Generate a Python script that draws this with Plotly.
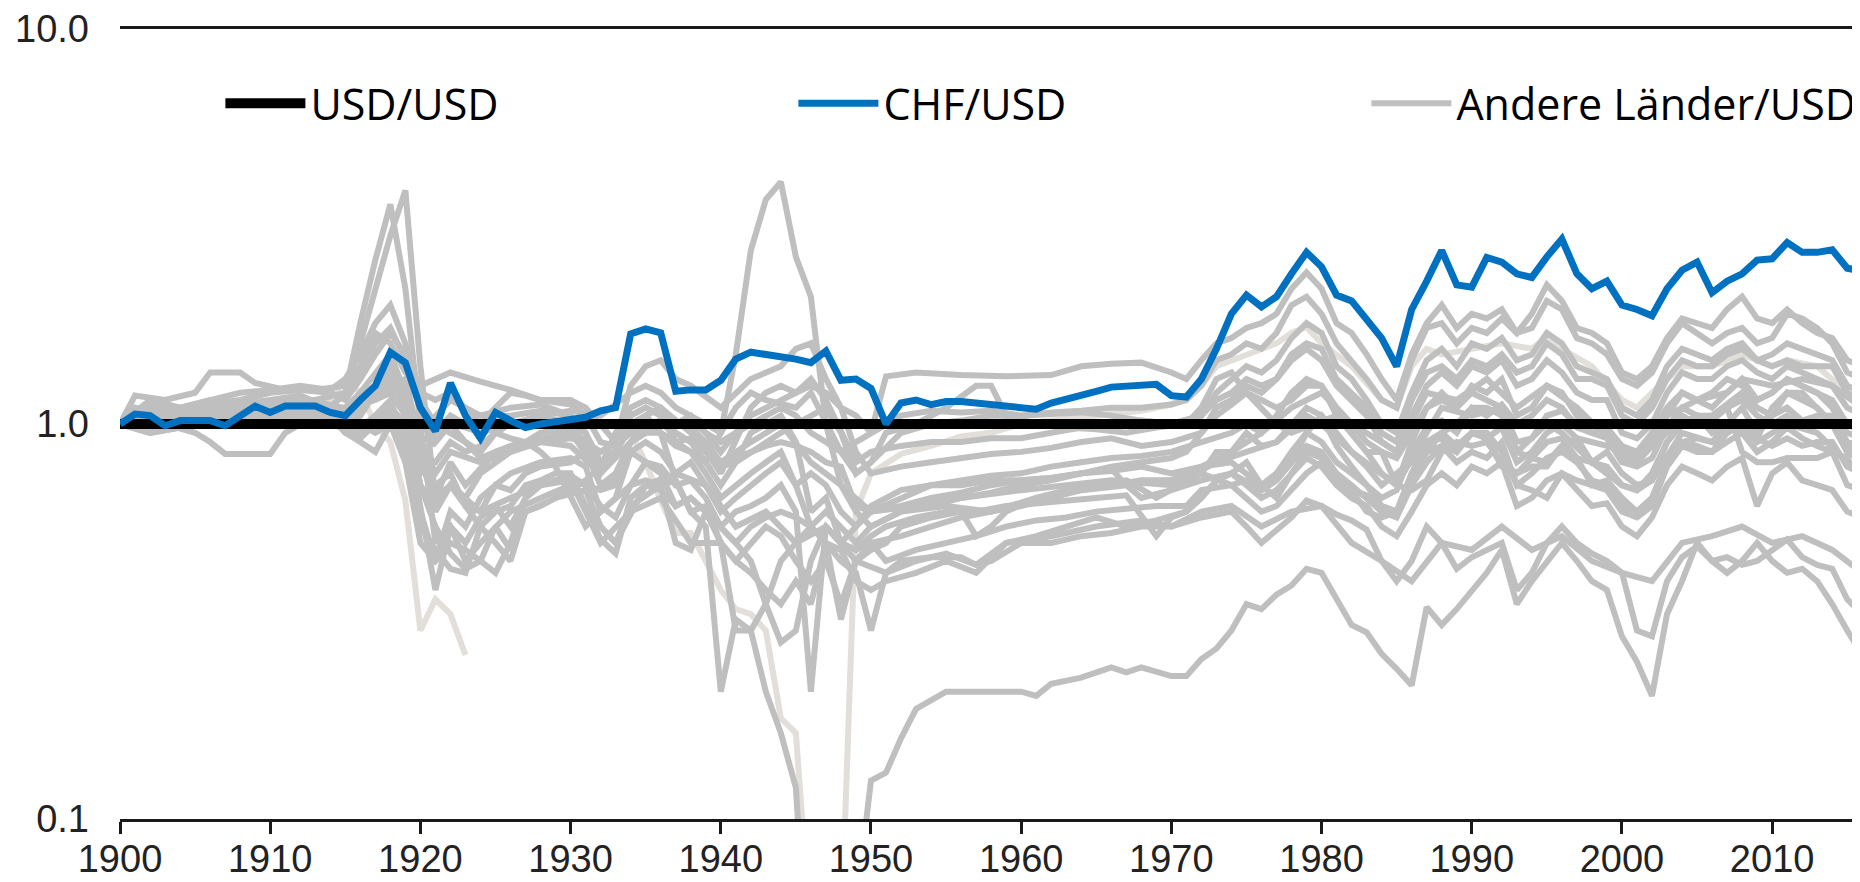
import plotly.graph_objects as go

# ---------------- data ----------------
years = list(range(1900, 2017))
usd_values = [1.0] * len(years)

chf_values = [
    1.00, 1.06, 1.05, 0.99, 1.02, 1.02, 1.02, 0.99, 1.05, 1.11,
    1.07, 1.11, 1.11, 1.11, 1.07, 1.05, 1.15, 1.25, 1.52, 1.43,
    1.10, 0.96, 1.27, 1.05, 0.92, 1.07, 1.02, 0.98, 1.00, 1.01,
    1.03, 1.04, 1.08, 1.10, 1.69, 1.74, 1.70, 1.21, 1.22, 1.22,
    1.29, 1.46, 1.52, 1.50, 1.49, 1.46, 1.43, 1.53, 1.29, 1.30,
    1.23, 1.00, 1.13, 1.15, 1.12, 1.14, 1.14, 1.13, 1.12, 1.12,
    1.10, 1.09, 1.13, 1.16, 1.18, 1.21, 1.24, 1.25, 1.26, 1.26,
    1.18, 1.17, 1.30, 1.55, 1.90, 2.12, 1.98, 2.10, 2.40, 2.72,
    2.50, 2.12, 2.05, 1.85, 1.65, 1.40, 1.95, 2.30, 2.75, 2.25,
    2.22, 2.64, 2.57, 2.40, 2.35, 2.65, 2.94, 2.40, 2.20, 2.30,
    2.00, 1.95, 1.88, 2.20, 2.45, 2.57, 2.15, 2.30, 2.40, 2.60,
    2.62, 2.88, 2.72, 2.72, 2.76, 2.48, 2.44,
]

x_ticks = list(range(1900, 2011, 10))
y_ticks = [0.1, 1.0, 10.0]
y_tick_text = ["0.1", "1.0", "10.0"]

# other countries (year, value)
g01 = [(1900,1.0),(1901,1.18),(1903,1.15),(1905,1.2),(1906,1.35),(1908,1.35),(1909,1.27),(1911,1.22),(1913,1.22),
       (1915,1.25),(1916,1.4),(1917,1.7),(1918,1.6),(1919,1.35),(1920,1.25),(1921,1.3),(1922,1.35),(1924,1.28),
       (1926,1.22),(1928,1.15),(1930,1.15),(1931,1.1),(1932,1.0),(1933,0.9),(1934,1.25),(1935,1.4),(1936,1.45),
       (1937,1.3),(1938,1.25),(1940,1.1),(1942,1.3),(1944,1.4),(1945,1.55),(1946,1.6),(1947,1.3),(1948,1.1),
       (1949,1.05),(1950,0.95),(1951,1.32),(1953,1.35),(1956,1.33),(1959,1.32),(1962,1.33),(1964,1.4),(1966,1.42),
       (1968,1.43),(1970,1.35),(1971,1.3),(1972,1.45),(1973,1.6),(1974,1.65),(1975,1.75),(1976,1.8),(1977,1.9),
       (1978,2.2),(1979,2.42),(1980,2.2),(1981,1.8),(1982,1.7),(1983,1.5),(1984,1.3),(1985,1.15),(1986,1.5),
       (1987,1.8),(1988,2.0),(1989,1.75),(1990,1.9),(1991,1.85),(1992,1.95),(1993,1.7),(1994,1.75),(1995,2.05),
       (1996,1.95),(1997,1.65),(1998,1.6),(1999,1.5),(2000,1.3),(2001,1.25),(2002,1.35),(2003,1.6),(2004,1.8),
       (2005,1.7),(2006,1.6),(2007,1.7),(2008,1.75),(2009,1.6),(2010,1.65),(2011,1.9),(2012,1.85),(2013,1.75),
       (2014,1.6),(2015,1.35),(2016,1.3)]
g02 = [(1900,1.0),(1902,1.05),(1904,1.0),(1907,1.05),(1910,1.1),(1913,1.12),(1915,1.1),(1916,1.2),(1917,1.35),
       (1918,1.5),(1919,1.2),(1920,0.9),(1921,0.95),(1922,1.05),(1924,0.95),(1926,1.0),(1928,1.05),(1930,1.08),
       (1932,1.05),(1934,1.2),(1935,1.25),(1936,1.2),(1937,1.1),(1939,1.0),(1940,0.95),(1941,1.1),(1942,1.2),
       (1943,1.15),(1945,1.1),(1946,1.2),(1947,1.0),(1948,0.85),(1949,0.75),(1950,0.8),(1952,0.95),(1954,1.0),
       (1956,1.02),(1958,1.05),(1960,1.05),(1962,1.07),(1964,1.08),(1966,1.1),(1968,1.1),(1970,1.12),(1971,1.15),
       (1972,1.25),(1973,1.45),(1974,1.5),(1975,1.6),(1976,1.55),(1977,1.7),(1978,2.0),(1979,2.1),(1980,1.9),
       (1981,1.6),(1982,1.45),(1983,1.3),(1984,1.15),(1985,1.1),(1986,1.45),(1987,1.75),(1988,1.8),(1989,1.6),
       (1990,1.75),(1991,1.7),(1992,1.85),(1993,1.7),(1994,1.9),(1995,2.25),(1996,2.05),(1997,1.75),(1998,1.7),
       (1999,1.6),(2000,1.35),(2001,1.3),(2002,1.4),(2003,1.65),(2004,1.85),(2005,1.8),(2006,1.75),(2007,1.95),
       (2008,2.1),(2009,1.85),(2010,1.8),(2011,1.95),(2012,1.8),(2013,1.7),(2014,1.65),(2015,1.45),(2016,1.4)]
g03 = [(1900,1.0),(1902,1.05),(1905,1.0),(1908,1.05),(1911,1.1),(1914,1.0),(1916,1.1),(1918,1.25),(1919,1.3),
       (1920,0.9),(1921,0.75),(1922,0.85),(1924,0.8),(1926,0.85),(1928,0.9),(1930,0.88),(1932,0.75),(1934,0.9),
       (1936,1.0),(1938,0.9),(1939,0.8),(1940,0.95),(1941,1.5),(1942,2.75),(1943,3.7),(1944,4.1),(1945,2.65),
       (1946,2.1),(1947,1.0),(1948,0.7),(1949,0.6),(1950,0.55),(1952,0.6),(1955,0.62),(1958,0.6),(1961,0.65),
       (1964,0.68),(1967,0.7),(1970,0.72),(1972,0.78),(1974,0.85),(1976,0.95),(1978,1.1),(1980,1.2),(1982,1.0),
       (1984,0.9),(1985,0.85),(1987,1.2),(1989,1.15),(1991,1.3),(1993,1.1),(1995,1.25),(1997,1.1),(2000,0.85),
       (2001,0.82),(2003,1.05),(2005,1.15),(2007,1.2),(2008,1.3),(2010,1.25),(2012,1.3),(2014,1.25),(2016,1.1)]
g04 = [(1900,1.0),(1903,1.1),(1906,1.05),(1910,1.1),(1913,1.15),(1915,1.2),(1916,1.6),(1917,2.2),(1918,3.0),
       (1919,3.9),(1920,1.4),(1921,0.65),(1922,0.8),(1923,0.7),(1925,0.85),(1927,0.9),(1930,0.95),(1932,0.75),
       (1934,1.0),(1936,1.1),(1938,0.95),(1940,0.8),(1942,0.9),(1944,1.0),(1946,0.8),(1948,0.7),(1950,0.6),
       (1953,0.62),(1956,0.65),(1960,0.68),(1963,0.7),(1966,0.72),(1970,0.7),(1973,0.8),(1975,0.85),(1977,0.9),
       (1979,1.05),(1980,1.0),(1982,0.85),(1984,0.75),(1985,0.7),(1987,0.95),(1988,1.1),(1990,1.05),(1992,1.1),
       (1993,0.85),(1995,1.0),(1996,0.95),(1998,0.8),(2000,0.7),(2001,0.68),(2002,0.72),(2004,0.95),(2006,0.9),
       (2008,1.0),(2009,0.9),(2011,1.0),(2013,0.95),(2015,0.8),(2016,0.78)]
g05 = [(1900,1.0),(1902,1.1),(1905,1.05),(1908,1.1),(1911,1.15),(1914,1.1),(1915,1.2),(1916,1.8),(1917,2.6),
       (1918,3.6),(1919,2.2),(1920,1.0),(1921,0.5),(1922,0.55),(1923,0.45),(1924,0.5),(1926,0.6),(1928,0.65),
       (1930,0.7),(1932,0.55),(1933,0.5),(1935,0.7),(1937,0.75),(1939,0.7),(1941,0.55),(1943,0.6),(1945,0.5),
       (1947,0.55),(1949,0.45),(1951,0.42),(1953,0.45),(1955,0.47),(1957,0.44),(1959,0.5),(1962,0.52),(1965,0.55),
       (1968,0.57),(1970,0.55),(1972,0.6),(1974,0.62),(1976,0.55),(1978,0.6),(1980,0.62),(1982,0.5),(1984,0.45),
       (1986,0.4),(1988,0.5),(1990,0.48),(1992,0.55),(1994,0.48),(1996,0.52),(1998,0.45),(2000,0.42),(2002,0.4),
       (2004,0.5),(2006,0.52),(2008,0.55),(2010,0.5),(2012,0.52),(2014,0.48),(2016,0.42)]
g06 = [(1900,1.0),(1902,1.08),(1905,1.02),(1908,1.0),(1911,1.05),(1914,1.0),(1916,0.95),(1918,1.05),(1920,0.8),
       (1921,0.65),(1922,0.7),(1924,0.6),(1926,0.65),(1928,0.7),(1930,0.72),(1932,0.5),(1934,0.6),(1936,0.65),
       (1938,0.5),(1940,0.5),(1941,0.3),(1942,0.3),(1943,0.21),(1944,0.165),(1945,0.12),(1946,0.03),(1947,0.02),
       (1948,0.03),(1949,0.06),(1950,0.125),(1951,0.131),(1952,0.16),(1953,0.19),(1954,0.2),(1955,0.21),
       (1958,0.21),(1960,0.21),(1961,0.205),(1962,0.22),(1964,0.228),(1966,0.242),(1967,0.235),(1968,0.242),
       (1970,0.23),(1971,0.23),(1972,0.254),(1973,0.27),(1974,0.3),(1975,0.35),(1976,0.34),(1977,0.37),
       (1978,0.39),(1979,0.43),(1980,0.42),(1981,0.36),(1982,0.31),(1983,0.297),(1984,0.262),(1985,0.24),
       (1986,0.218),(1987,0.344),(1988,0.31),(1989,0.34),(1990,0.38),(1991,0.42),(1992,0.48),(1993,0.35),
       (1994,0.4),(1995,0.45),(1996,0.5),(1997,0.45),(1998,0.4),(1999,0.38),(2000,0.29),(2001,0.25),
       (2002,0.205),(2003,0.33),(2004,0.4),(2005,0.5),(2006,0.45),(2007,0.42),(2008,0.45),(2009,0.5),
       (2010,0.45),(2011,0.42),(2012,0.43),(2013,0.4),(2014,0.35),(2015,0.3),(2016,0.26)]
g07 = [(1900,1.0),(1902,0.95),(1904,0.98),(1906,1.0),(1909,1.02),(1912,1.05),(1914,1.0),(1916,0.95),(1918,1.1),
       (1919,1.0),(1920,0.7),(1921,0.55),(1922,0.47),(1923,0.43),(1924,0.45),(1925,0.55),(1926,0.48),(1927,0.6),
       (1929,0.65),(1931,0.68),(1932,0.55),(1933,0.5),(1934,0.62),(1936,0.7),(1937,0.72),(1938,0.6),(1939,0.55),
       (1940,0.21),(1941,0.32),(1942,0.3),(1943,0.35),(1944,0.45),(1945,0.5),(1946,0.55),(1947,0.5),(1948,0.45),
       (1949,0.42),(1950,0.3),(1951,0.42),(1952,0.45),(1954,0.46),(1956,0.46),(1957,0.44),(1958,0.45),(1960,0.5),
       (1962,0.5),(1964,0.52),(1966,0.53),(1968,0.55),(1970,0.55),(1972,0.58),(1974,0.6),(1975,0.55),(1976,0.5),
       (1978,0.58),(1979,0.64),(1980,0.62),(1981,0.59),(1982,0.57),(1983,0.54),(1984,0.45),(1985,0.4),(1986,0.45),
       (1987,0.55),(1988,0.5),(1989,0.43),(1990,0.46),(1991,0.48),(1992,0.5),(1993,0.38),(1994,0.42),(1995,0.5),
       (1996,0.55),(1997,0.5),(1998,0.47),(1999,0.45),(2000,0.42),(2001,0.3),(2002,0.29),(2003,0.4),(2004,0.46),
       (2005,0.49),(2006,0.45),(2007,0.46),(2008,0.44),(2009,0.45),(2010,0.48),(2011,0.51),(2012,0.46),
       (2013,0.44),(2014,0.43),(2015,0.36),(2016,0.33)]
g09 = [(1900,1.0),(1902,1.12),(1904,1.08),(1906,1.1),(1908,1.12),(1910,1.15),(1912,1.18),(1914,1.1),(1915,1.0),
       (1916,0.95),(1917,1.0),(1918,1.1),(1919,0.85),(1920,0.6),(1921,0.45),(1922,0.6),(1923,0.55),(1924,0.65),
       (1925,0.7),(1926,0.75),(1928,0.8),(1930,0.82),(1931,0.78),(1932,0.6),(1933,0.65),(1934,0.85),(1935,0.9),
       (1936,0.85),(1937,0.75),(1938,0.8),(1939,0.7),(1940,0.6),(1941,0.65),(1942,0.7),(1943,0.75),(1944,0.8),
       (1945,0.7),(1946,0.75),(1947,0.7),(1948,0.6),(1949,0.55),(1950,0.6),(1952,0.65),(1954,0.7),(1956,0.72),
       (1958,0.74),(1960,0.75),(1962,0.78),(1964,0.8),(1966,0.82),(1968,0.83),(1970,0.85),(1972,0.9),(1974,0.95),
       (1975,1.0),(1976,0.95),(1977,1.05),(1978,1.2),(1979,1.3),(1980,1.25),(1981,1.05),(1982,0.95),(1983,0.85),
       (1984,0.75),(1985,0.7),(1986,0.9),(1987,1.1),(1988,1.2),(1989,1.1),(1990,1.25),(1991,1.2),(1992,1.3),
       (1993,1.05),(1994,1.1),(1995,1.25),(1996,1.2),(1997,1.05),(1998,1.0),(1999,0.95),(2000,0.82),(2001,0.8),
       (2002,0.88),(2003,1.05),(2004,1.2),(2005,1.15),(2006,1.1),(2007,1.2),(2008,1.3),(2009,1.15),(2010,1.2),
       (2011,1.3),(2012,1.25),(2013,1.2),(2014,1.15),(2015,1.0),(2016,0.95)]
g10 = [(1900,1.0),(1901,1.05),(1903,1.0),(1905,0.95),(1906,0.9),(1907,0.84),(1909,0.84),(1910,0.84),(1911,0.95),
       (1912,1.0),(1913,1.05),(1915,1.0),(1916,1.05),(1917,1.2),(1918,1.3),(1919,1.1),(1920,0.8),(1921,0.7),
       (1922,0.75),(1923,0.62),(1924,0.6),(1925,0.7),(1926,0.68),(1927,0.75),(1928,0.78),(1930,0.8),(1931,0.85),
       (1932,0.7),(1933,0.72),(1934,0.9),(1935,1.0),(1936,0.95),(1937,0.88),(1938,0.85),(1939,0.8),(1940,0.7),
       (1941,0.8),(1942,0.95),(1943,1.0),(1944,1.05),(1945,0.9),(1946,0.6),(1947,0.65),(1948,0.5),(1949,0.55),
       (1950,0.62),(1952,0.68),(1954,0.7),(1956,0.7),(1958,0.72),(1960,0.72),(1962,0.73),(1964,0.75),(1966,0.76),
       (1968,0.78),(1970,0.75),(1972,0.78),(1974,0.8),(1976,0.7),(1977,0.75),(1978,0.85),(1979,0.95),(1980,0.9),
       (1981,0.8),(1982,0.75),(1983,0.7),(1984,0.62),(1985,0.6),(1986,0.75),(1987,0.9),(1988,0.95),(1989,0.88),
       (1990,0.95),(1991,0.92),(1992,0.98),(1993,0.8),(1994,0.85),(1995,0.95),(1996,1.0),(1997,0.92),(1998,0.8),
       (1999,0.85),(2000,0.75),(2001,0.7),(2002,0.72),(2003,0.9),(2004,1.0),(2005,1.05),(2006,0.95),(2007,1.0),
       (2008,1.1),(2009,0.95),(2010,1.05),(2011,1.2),(2012,1.15),(2013,1.1),(2014,1.0),(2015,0.85),(2016,0.8)]
g11 = [(1900,1.0),(1902,1.15),(1904,1.1),(1906,1.12),(1908,1.15),(1910,1.2),(1912,1.22),(1914,1.2),(1915,1.15),
       (1916,1.3),(1917,1.5),(1918,1.7),(1919,1.5),(1920,1.1),(1921,0.9),(1922,1.0),(1923,0.9),(1924,0.85),
       (1925,0.95),(1926,1.0),(1928,1.05),(1930,1.0),(1931,0.95),(1932,0.8),(1933,0.85),(1934,1.05),(1935,1.1),
       (1936,1.05),(1937,0.95),(1938,0.9),(1939,0.85),(1940,0.75),(1941,0.9),(1942,1.1),(1943,1.2),(1944,1.25),
       (1945,1.2),(1946,1.3),(1947,1.15),(1948,0.95),(1949,0.8),(1950,0.85),(1952,0.88),(1954,0.9),(1956,0.9),
       (1958,0.92),(1960,0.92),(1962,0.95),(1964,0.98),(1966,1.0),(1968,1.02),(1970,1.0),(1972,1.05),(1973,1.2),
       (1974,1.3),(1975,1.4),(1976,1.35),(1977,1.45),(1978,1.65),(1979,1.8),(1980,1.7),(1981,1.4),(1982,1.3),
       (1983,1.15),(1984,1.0),(1985,0.95),(1986,1.2),(1987,1.45),(1988,1.55),(1989,1.4),(1990,1.6),(1991,1.55),
       (1992,1.65),(1993,1.45),(1994,1.5),(1995,1.7),(1996,1.6),(1997,1.4),(1998,1.35),(1999,1.3),(2000,1.1),
       (2001,1.05),(2002,1.15),(2003,1.4),(2004,1.55),(2005,1.5),(2006,1.45),(2007,1.55),(2008,1.6),(2009,1.45),
       (2010,1.5),(2011,1.6),(2012,1.55),(2013,1.5),(2014,1.45),(2015,1.25),(2016,1.2)]
g12 = [(1900,1.0),(1902,1.1),(1904,1.05),(1906,1.08),(1908,1.05),(1910,1.1),(1912,1.12),(1914,1.05),(1916,1.1),
       (1917,1.2),(1918,1.25),(1919,1.15),(1920,0.95),(1921,1.05),(1922,1.15),(1923,1.1),(1924,1.05),(1926,1.1),
       (1928,1.12),(1930,1.05),(1931,0.85),(1932,0.7),(1933,0.75),(1934,0.9),(1935,0.95),(1936,0.95),(1937,0.9),
       (1938,0.92),(1939,0.85),(1940,0.78),(1941,0.8),(1942,0.85),(1943,0.9),(1944,0.95),(1945,1.0),(1946,1.05),
       (1947,1.1),(1948,0.95),(1949,0.75),(1950,0.8),(1951,0.95),(1953,1.0),(1955,1.1),(1957,1.25),(1958,1.25),
       (1959,1.05),(1961,1.0),(1963,0.98),(1965,0.97),(1967,0.95),(1969,0.98),(1971,1.0),(1972,1.1),(1973,1.3),
       (1974,1.35),(1975,1.2),(1976,1.1),(1977,1.0),(1978,0.95),(1979,0.98),(1980,1.02),(1981,1.05),(1982,0.95),
       (1983,0.85),(1984,0.85),(1985,0.7),(1986,0.68),(1987,0.72),(1988,0.85),(1989,0.9),(1990,0.88),(1991,0.9),
       (1992,0.8),(1993,0.75),(1994,0.82),(1995,0.8),(1996,0.88),(1997,0.82),(1998,0.7),(1999,0.72),(2000,0.65),
       (2001,0.6),(2002,0.65),(2003,0.8),(2004,0.9),(2005,0.92),(2006,0.9),(2007,1.0),(2008,0.95),(2009,0.92),
       (2010,1.1),(2011,1.2),(2012,1.2),(2013,1.1),(2014,1.0),(2015,0.85),(2016,0.85)]
g13 = [(1900,1.0),(1902,0.98),(1904,1.0),(1906,1.03),(1908,1.05),(1910,1.08),(1912,1.1),(1914,1.05),(1915,0.95),
       (1916,0.92),(1917,1.0),(1918,1.1),(1919,1.0),(1920,0.62),(1921,0.38),(1922,0.55),(1923,0.5),(1924,0.58),
       (1925,0.62),(1926,0.55),(1927,0.65),(1928,0.7),(1929,0.72),(1930,0.74),(1931,0.7),(1932,0.62),(1933,0.58),
       (1934,0.7),(1935,0.8),(1936,0.78),(1937,0.7),(1938,0.72),(1939,0.65),(1940,0.55),(1941,0.6),(1942,0.62),
       (1943,0.65),(1944,0.7),(1945,0.6),(1946,0.21),(1947,0.55),(1948,0.5),(1949,0.48),(1950,0.52),(1951,0.55),
       (1953,0.58),(1955,0.6),(1957,0.6),(1959,0.62),(1961,0.63),(1963,0.64),(1965,0.65),(1967,0.66),(1969,0.52),
       (1970,0.58),(1971,0.6),(1972,0.65),(1973,0.72),(1974,0.75),(1975,0.7),(1976,0.65),(1977,0.68),(1978,0.75),
       (1979,0.82),(1980,0.78),(1981,0.7),(1982,0.65),(1983,0.62),(1984,0.55),(1985,0.52),(1986,0.6),(1987,0.7),
       (1988,0.75),(1989,0.7),(1990,0.78),(1991,0.75),(1992,0.8),(1993,0.62),(1994,0.65),(1995,0.72),(1996,0.75),
       (1997,0.68),(1998,0.62),(1999,0.63),(2000,0.55),(2001,0.52),(2002,0.58),(2003,0.7),(2004,0.78),(2005,0.75),
       (2006,0.72),(2007,0.78),(2008,0.82),(2009,0.62),(2010,0.75),(2011,0.8),(2012,0.72),(2013,0.7),(2014,0.68),
       (2015,0.6),(2016,0.58)]
g14 = [(1900,1.0),(1902,1.08),(1904,1.05),(1906,1.0),(1908,1.02),(1910,1.05),(1912,1.08),(1914,1.1),(1915,1.05),
       (1916,1.0),(1917,0.95),(1918,1.0),(1919,0.95),(1920,0.75),(1921,0.8),(1922,0.9),(1923,0.85),(1924,0.88),
       (1925,0.95),(1926,0.92),(1927,0.9),(1928,0.95),(1930,0.98),(1931,0.9),(1932,0.78),(1933,0.95),(1934,1.1),
       (1935,1.15),(1936,1.1),(1937,1.0),(1938,1.05),(1939,0.95),(1940,0.85),(1941,0.95),(1942,1.0),(1943,1.05),
       (1944,1.1),(1945,1.05),(1946,0.95),(1947,0.9),(1948,0.85),(1949,0.9),(1950,0.95),(1952,1.05),(1954,1.08),
       (1956,1.07),(1958,1.08),(1960,1.05),(1962,1.06),(1964,1.07),(1966,1.05),(1968,1.02),(1970,1.0),(1972,1.05),
       (1973,1.15),(1974,1.2),(1975,1.3),(1976,1.25),(1977,1.3),(1978,1.45),(1979,1.55),(1980,1.45),(1981,1.25),
       (1982,1.15),(1983,1.05),(1984,0.9),(1985,0.85),(1986,1.05),(1987,1.25),(1988,1.35),(1989,1.25),(1990,1.4),
       (1991,1.35),(1992,1.45),(1993,1.25),(1994,1.3),(1995,1.45),(1996,1.35),(1997,1.2),(1998,1.15),(1999,1.15),
       (2000,0.95),(2001,0.92),(2002,1.0),(2003,1.2),(2004,1.35),(2005,1.3),(2006,1.3),(2007,1.4),(2008,1.45),
       (2009,1.35),(2010,1.3),(2011,1.4),(2012,1.35),(2013,1.3),(2014,1.25),(2015,1.1),(2016,1.05)]
g15 = [(1900,1.0),(1902,1.05),(1904,1.02),(1906,1.05),(1908,1.08),(1910,1.1),(1912,1.12),(1914,1.1),(1915,1.08),
       (1916,1.12),(1917,1.15),(1918,1.2),(1919,1.05),(1920,0.85),(1921,0.9),(1922,1.0),(1923,0.98),(1924,0.95),
       (1925,1.05),(1926,1.05),(1928,1.08),(1930,1.05),(1931,0.95),(1932,0.75),(1933,0.85),(1934,0.98),(1935,1.0),
       (1936,1.02),(1937,1.0),(1938,0.98),(1939,0.9),(1940,0.8),(1941,0.82),(1942,0.85),(1943,0.88),(1944,0.9),
       (1945,0.88),(1946,0.85),(1947,0.8),(1948,0.78),(1949,0.62),(1950,0.6),(1952,0.62),(1954,0.65),(1956,0.67),
       (1958,0.7),(1960,0.72),(1962,0.73),(1964,0.75),(1966,0.77),(1967,0.7),(1968,0.65),(1970,0.68),(1972,0.72),
       (1974,0.75),(1976,0.68),(1977,0.72),(1978,0.8),(1979,0.95),(1980,1.05),(1981,0.95),(1982,0.85),(1983,0.78),
       (1984,0.7),(1985,0.75),(1986,0.8),(1987,0.9),(1988,0.92),(1989,0.85),(1990,0.95),(1991,0.92),(1992,0.78),
       (1993,0.75),(1994,0.78),(1995,0.78),(1996,0.88),(1997,0.92),(1998,0.9),(1999,0.88),(2000,0.85),(2001,0.82),
       (2002,0.88),(2003,0.95),(2004,1.05),(2005,1.0),(2006,1.05),(2007,1.1),(2008,0.85),(2009,0.8),(2010,0.8),
       (2011,0.82),(2012,0.82),(2013,0.82),(2014,0.85),(2015,0.82),(2016,0.7)]
g16 = [(1900,1.0),(1901,1.1),(1903,1.05),(1905,1.08),(1907,1.1),(1909,1.12),(1911,1.15),(1913,1.15),(1914,1.1),
       (1915,1.0),(1916,0.98),(1917,1.05),(1918,1.15),(1919,0.9),(1920,0.55),(1921,0.48),(1922,0.43),(1923,0.42),
       (1924,0.55),(1925,0.6),(1926,0.62),(1927,0.7),(1928,0.72),(1929,0.75),(1930,0.75),(1931,0.62),(1932,0.51),
       (1933,0.47),(1934,0.65),(1935,0.7),(1936,0.68),(1937,0.62),(1938,0.65),(1939,0.6),(1940,0.5),(1941,0.45),
       (1942,0.5),(1943,0.55),(1944,0.52),(1945,0.45),(1946,0.4),(1947,0.45),(1948,0.35),(1949,0.45),(1950,0.5),
       (1951,0.45),(1953,0.48),(1955,0.5),(1957,0.52),(1959,0.55),(1961,0.57),(1963,0.58),(1965,0.6),(1967,0.61),
       (1969,0.62),(1971,0.62),(1972,0.68),(1974,0.7),(1975,0.72),(1976,0.68),(1977,0.72),(1978,0.8),(1979,0.88),
       (1980,0.85),(1981,0.75),(1982,0.7),(1983,0.65),(1984,0.6),(1985,0.58),(1986,0.7),(1987,0.8),(1988,0.88),
       (1989,0.8),(1990,0.85),(1991,0.82),(1992,0.9),(1993,0.7),(1994,0.75),(1995,0.82),(1996,0.85),(1997,0.8),
       (1998,0.72),(1999,0.7),(2000,0.62),(2001,0.6),(2002,0.65),(2003,0.8),(2004,0.9),(2005,0.88),(2006,0.85),
       (2007,0.9),(2008,0.95),(2009,0.85),(2010,0.9),(2011,0.98),(2012,0.92),(2013,0.88),(2014,0.85),(2015,0.7),
       (2016,0.68)]
g17 = [(1900,1.0),(1902,1.1),(1904,1.05),(1906,1.02),(1908,1.05),(1910,1.08),(1912,1.1),(1914,1.05),(1915,1.1),
       (1916,1.15),(1917,1.25),(1918,1.4),(1919,1.2),(1920,0.85),(1921,0.6),(1922,0.7),(1923,0.65),(1924,0.75),
       (1925,0.8),(1926,0.85),(1927,0.88),(1928,0.9),(1930,0.92),(1931,0.9),(1932,0.85),(1933,0.9),(1934,1.05),
       (1935,1.1),(1936,1.05),(1937,0.9),(1938,0.85),(1939,0.75),(1940,0.65),(1941,0.7),(1942,0.75),(1943,0.8),
       (1944,0.85),(1945,0.7),(1946,0.55),(1947,0.6),(1948,0.55),(1949,0.5),(1950,0.55),(1952,0.6),(1954,0.62),
       (1956,0.65),(1958,0.67),(1960,0.7),(1962,0.72),(1964,0.75),(1966,0.78),(1968,0.8),(1970,0.82),(1971,0.85),
       (1972,0.95),(1973,1.1),(1974,1.15),(1975,1.25),(1976,1.2),(1977,1.3),(1978,1.5),(1979,1.6),(1980,1.55),
       (1981,1.3),(1982,1.2),(1983,1.1),(1984,0.95),(1985,0.9),(1986,1.15),(1987,1.35),(1988,1.4),(1989,1.3),
       (1990,1.45),(1991,1.4),(1992,1.5),(1993,1.35),(1994,1.4),(1995,1.6),(1996,1.5),(1997,1.3),(1998,1.3),
       (1999,1.25),(2000,1.05),(2001,1.0),(2002,1.1),(2003,1.3),(2004,1.45),(2005,1.4),(2006,1.4),(2007,1.5),
       (2008,1.55),(2009,1.45),(2010,1.4),(2011,1.45),(2012,1.4),(2013,1.4),(2014,1.4),(2015,1.2),(2016,1.15)]
g18 = [(1900,1.0),(1902,0.95),(1904,0.98),(1906,1.02),(1908,1.0),(1910,1.05),(1912,1.08),(1914,1.1),(1915,1.2),
       (1916,1.35),(1917,1.6),(1918,1.75),(1919,1.45),(1920,1.15),(1921,1.0),(1922,0.95),(1923,0.9),(1924,0.82),
       (1925,0.85),(1926,0.88),(1927,0.9),(1928,0.85),(1929,0.78),(1930,0.65),(1931,0.55),(1932,0.6),(1933,0.65),
       (1934,0.7),(1935,0.72),(1936,0.7),(1937,0.5),(1938,0.48),(1939,0.6),(1940,0.55),(1941,0.5),(1942,0.55),
       (1943,0.58),(1944,0.6),(1945,0.58),(1946,0.55),(1947,0.5),(1948,0.48),(1949,0.4),(1950,0.38),(1951,0.4),
       (1953,0.42),(1955,0.45),(1957,0.42),(1959,0.5),(1961,0.52),(1963,0.55),(1965,0.58),(1967,0.55),(1969,0.57),
       (1971,0.6),(1972,0.65),(1973,0.72),(1974,0.75),(1975,0.8),(1976,0.7),(1977,0.65),(1978,0.75),(1979,0.85),
       (1980,0.82),(1981,0.72),(1982,0.68),(1983,0.6),(1984,0.58),(1985,0.6),(1986,0.72),(1987,0.85),(1988,0.95),
       (1989,1.0),(1990,1.1),(1991,1.1),(1992,1.05),(1993,0.85),(1994,0.82),(1995,0.9),(1996,0.92),(1997,0.82),
       (1998,0.8),(1999,0.78),(2000,0.7),(2001,0.68),(2002,0.75),(2003,0.9),(2004,1.0),(2005,1.0),(2006,1.02),
       (2007,1.1),(2008,1.15),(2009,1.05),(2010,1.0),(2011,1.05),(2012,0.98),(2013,1.0),(2014,1.0),(2015,0.88),
       (2016,0.85)]
g19 = [(1900,1.0),(1902,1.05),(1904,1.1),(1906,1.15),(1908,1.12),(1910,1.1),(1912,1.08),(1914,1.05),(1915,0.95),
       (1916,0.9),(1917,0.85),(1918,1.0),(1919,0.8),(1920,0.5),(1921,0.45),(1922,0.5),(1923,0.48),(1924,0.45),
       (1925,0.42),(1926,0.5),(1927,0.65),(1928,0.7),(1929,0.72),(1930,0.72),(1931,0.7),(1932,0.68),(1933,0.7),
       (1934,0.85),(1935,0.8),(1936,0.75),(1937,0.62),(1938,0.65),(1939,0.6),(1940,0.55),(1941,0.5),(1942,0.45),
       (1943,0.35),(1944,0.28),(1945,0.3),(1946,0.45),(1947,0.55),(1948,0.5),(1949,0.48),(1950,0.5),(1952,0.52),
       (1954,0.55),(1956,0.58),(1958,0.6),(1960,0.62),(1962,0.65),(1964,0.68),(1966,0.7),(1968,0.72),(1970,0.72),
       (1972,0.75),(1974,0.7),(1976,0.6),(1977,0.62),(1978,0.68),(1979,0.75),(1980,0.8),(1981,0.72),(1982,0.68),
       (1983,0.66),(1984,0.62),(1985,0.6),(1986,0.75),(1987,0.85),(1988,0.88),(1989,0.85),(1990,0.95),(1991,0.95),
       (1992,0.85),(1993,0.7),(1994,0.68),(1995,0.65),(1996,0.75),(1997,0.72),(1998,0.7),(1999,0.68),(2000,0.6),
       (2001,0.58),(2002,0.62),(2003,0.78),(2004,0.88),(2005,0.85),(2006,0.85),(2007,0.95),(2008,1.0),(2009,0.92),
       (2010,0.88),(2011,0.92),(2012,0.88),(2013,0.9),(2014,0.9),(2015,0.78),(2016,0.75)]
g20 = [(1900,1.0),(1902,1.08),(1904,1.05),(1906,1.08),(1908,1.1),(1910,1.12),(1912,1.15),(1914,1.12),(1915,1.05),
       (1916,1.08),(1917,1.2),(1918,1.35),(1919,1.1),(1920,0.7),(1921,0.62),(1922,0.7),(1923,0.62),(1924,0.55),
       (1925,0.5),(1926,0.45),(1927,0.6),(1928,0.62),(1929,0.65),(1930,0.68),(1931,0.72),(1932,0.78),(1933,0.85),
       (1934,1.0),(1935,1.05),(1936,0.95),(1937,0.72),(1938,0.6),(1939,0.62),(1940,0.5),(1941,0.45),(1942,0.42),
       (1943,0.38),(1944,0.35),(1945,0.4),(1946,0.35),(1947,0.5),(1948,0.32),(1949,0.45),(1950,0.48),(1951,0.5),
       (1952,0.55),(1954,0.58),(1956,0.6),(1957,0.52),(1958,0.55),(1959,0.6),(1961,0.65),(1963,0.68),(1965,0.7),
       (1967,0.72),(1969,0.65),(1970,0.68),(1972,0.75),(1973,0.85),(1974,0.85),(1975,0.95),(1976,0.88),(1977,0.9),
       (1978,1.0),(1979,1.1),(1980,1.05),(1981,0.88),(1982,0.78),(1983,0.7),(1984,0.65),(1985,0.68),(1986,0.85),
       (1987,0.98),(1988,1.02),(1989,0.95),(1990,1.1),(1991,1.05),(1992,1.12),(1993,1.0),(1994,1.05),(1995,1.15),
       (1996,1.1),(1997,0.98),(1998,0.95),(1999,0.92),(2000,0.8),(2001,0.78),(2002,0.82),(2003,0.98),(2004,1.1),
       (2005,1.05),(2006,1.05),(2007,1.12),(2008,1.2),(2009,1.1),(2010,1.05),(2011,1.1),(2012,1.02),(2013,1.05),
       (2014,1.05),(2015,0.9),(2016,0.88)]
g21 = [(1900,1.0),(1902,1.12),(1904,1.1),(1906,1.15),(1908,1.2),(1910,1.22),(1912,1.25),(1914,1.22),(1915,1.3),
       (1916,1.5),(1917,1.8),(1918,2.0),(1919,1.6),(1920,1.2),(1921,1.15),(1922,1.2),(1923,1.1),(1924,1.0),
       (1925,1.1),(1926,1.2),(1927,1.18),(1928,1.15),(1930,1.12),(1931,1.05),(1932,0.9),(1933,0.88),(1934,0.95),
       (1935,0.98),(1936,1.0),(1937,1.0),(1938,1.02),(1939,0.95),(1940,0.9),(1941,0.95),(1942,1.05),(1943,1.1),
       (1944,1.15),(1945,1.2),(1946,1.25),(1947,1.2),(1948,1.1),(1949,0.85),(1950,0.75),(1952,0.78),(1954,0.8),
       (1956,0.82),(1958,0.84),(1960,0.85),(1962,0.87),(1964,0.9),(1966,0.92),(1968,0.88),(1970,0.9),(1972,0.95),
       (1973,1.05),(1974,1.12),(1975,1.2),(1976,1.15),(1977,1.1),(1978,1.15),(1979,1.25),(1980,1.25),(1981,1.1),
       (1982,1.0),(1983,0.9),(1984,0.85),(1985,0.82),(1986,0.95),(1987,1.1),(1988,1.15),(1989,1.1),(1990,1.2),
       (1991,1.15),(1992,1.1),(1993,0.9),(1994,0.92),(1995,1.05),(1996,1.08),(1997,1.0),(1998,0.95),(1999,0.98),
       (2000,0.88),(2001,0.85),(2002,0.95),(2003,1.1),(2004,1.2),(2005,1.15),(2006,1.2),(2007,1.3),(2008,1.25),
       (2009,1.15),(2010,1.2),(2011,1.3),(2012,1.25),(2013,1.2),(2014,1.1),(2015,0.95),(2016,0.92)]
# lighter line with data gaps
g_light = [(1900,1.0),(1902,1.02),(1905,1.0),(1908,1.05),(1911,1.08),(1913,1.1),(1914,1.15),(1915,1.3),(1916,1.2),
           (1917,1.0),(1918,0.9),(1919,0.64),(1920,0.3),(1921,0.36),(1922,0.33),(1923,0.26),(1924,None),
           (1925,0.85),(1927,0.9),(1929,0.95),(1931,1.0),(1933,1.0),(1934,0.95),(1935,0.8),(1936,0.64),(1937,0.53),
           (1938,0.53),(1939,0.45),(1940,0.38),(1941,0.34),(1942,0.33),(1943,0.3),(1944,0.18),(1945,0.165),
           (1946,0.05),(1947,None),(1948,0.05),(1949,0.6),(1950,0.75),(1952,0.84),(1954,0.88),(1956,0.93),
           (1958,0.95),(1960,1.0),(1962,1.02),(1965,1.05),(1968,1.08),(1970,1.12),(1972,1.25),(1973,1.4),(1975,1.5),
           (1977,1.6),(1978,1.7),(1979,1.76),(1980,1.6),(1982,1.4),(1984,1.15),(1985,1.1),(1986,1.4),(1987,1.55),
           (1988,1.5),(1990,1.55),(1992,1.6),(1994,1.55),(1995,1.66),(1996,1.55),(1998,1.4),(2000,1.15),(2001,1.1),
           (2002,1.2),(2004,1.4),(2006,1.4),(2008,1.5),(2010,1.4),(2011,1.45),(2013,1.4),(2015,1.2),(2016,1.15)]

grey_series = [g01, g02, g03, g04, g05, g06, g07, g09, g10, g11, g12, g13, g14, g15, g16, g17, g18, g19, g20, g21]

# ---------------- style ----------------
GREY = "#BFBFBF"
LIGHT = "#E2DFDA"
BLUE = "#0070C0"
BLACK = "#000000"
AXIS = "#1A1A1A"
TICK_FONT = dict(family="Liberation Sans, Arial, sans-serif", size=38, color="#222222")

fig = go.Figure()

fig.add_trace(go.Scatter(
    x=[p[0] for p in g_light], y=[p[1] for p in g_light], mode="lines",
    line=dict(color=LIGHT, width=6), showlegend=False, hoverinfo="skip", connectgaps=False))

for i, s in enumerate(grey_series):
    fig.add_trace(go.Scatter(
        x=[p[0] for p in s], y=[p[1] for p in s], mode="lines",
        line=dict(color=GREY, width=6), name="Andere Länder/USD",
        legendgroup="andere", showlegend=(i == 0), legendrank=3, hoverinfo="skip"))

fig.add_trace(go.Scatter(x=years, y=usd_values, mode="lines", line=dict(color=BLACK, width=10),
                         name="USD/USD", legendrank=1, hoverinfo="skip"))
fig.add_trace(go.Scatter(x=years, y=chf_values, mode="lines", line=dict(color=BLUE, width=7),
                         name="CHF/USD", legendrank=2, hoverinfo="skip"))

# page has an 8px body margin, so the figure is sized to fit the 1860x882 window
fig.update_layout(
    width=1852, height=874,
    margin=dict(l=112, r=0, t=21, b=63, autoexpand=False),
    paper_bgcolor="white", plot_bgcolor="white",
    showlegend=True,
    legend=dict(
        orientation="h", x=0.0577, y=0.906, xanchor="left", yanchor="middle",
        font=dict(family="Open Sans, Noto Sans, sans-serif", size=43, color="#000000"),
        bgcolor="rgba(0,0,0,0)", itemwidth=80, entrywidth=478, entrywidthmode="pixels",
        traceorder="normal",
    ),
    xaxis=dict(
        range=[1900, 2015.85], tickmode="array", tickvals=x_ticks,
        showline=True, linecolor=AXIS, linewidth=3, mirror=True,
        ticks="outside", ticklen=12, tickwidth=3, tickcolor=AXIS,
        showgrid=False, zeroline=False, tickfont=TICK_FONT, ticklabelstandoff=-8,
    ),
    yaxis=dict(
        type="log", range=[-1, 1], tickmode="array", tickvals=y_ticks, ticktext=y_tick_text,
        showline=False, showgrid=False, zeroline=False, ticks="",
        tickfont=TICK_FONT, ticklabelstandoff=30,
    ),
)

fig.write_html("out.html")
